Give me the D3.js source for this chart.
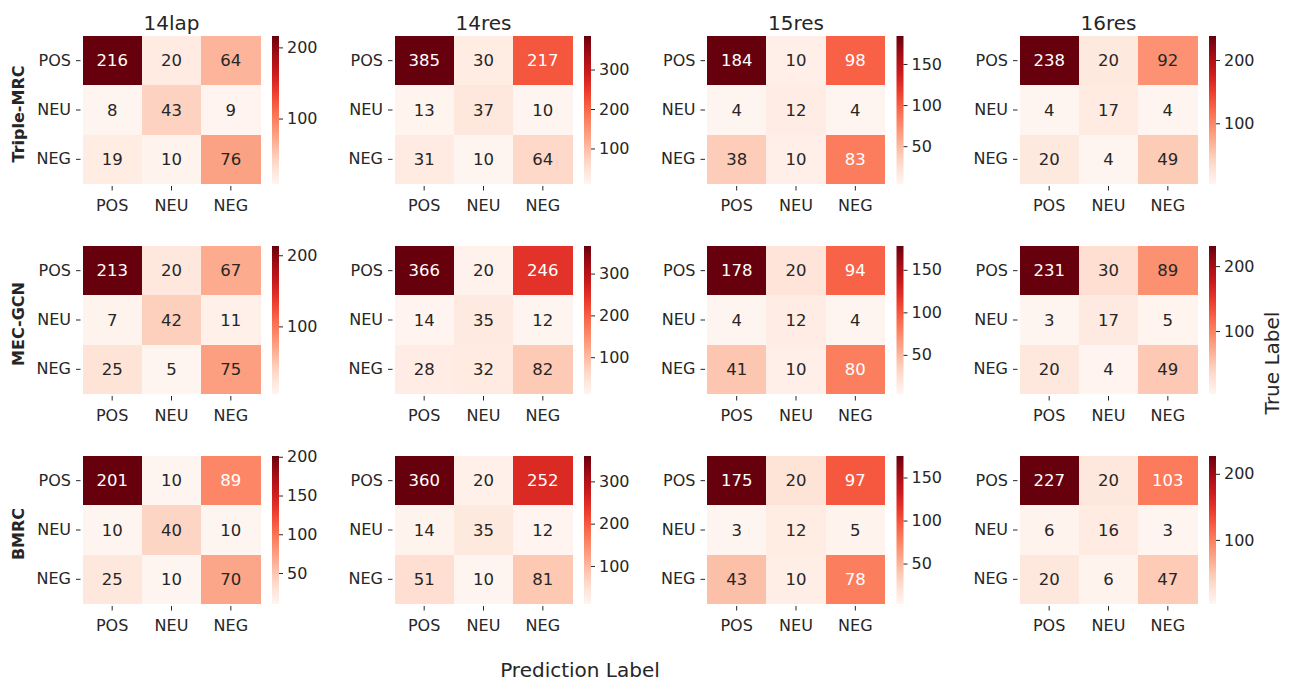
<!DOCTYPE html>
<html>
<head>
<meta charset="utf-8">
<script src="https://cdn.jsdelivr.net/npm/d3@7"></script>
<style>
  html, body { margin: 0; padding: 0; background: #fff; }
  svg { display: block; font-family: "DejaVu Sans", sans-serif; }
</style>
</head>
<body>
<svg id="chart" width="1290" height="682"></svg>
<script>
// Class labels used on both axes of every confusion matrix
const classes = ["POS", "NEU", "NEG"];
// Datasets (columns) and models (rows)
const datasets = ["14lap", "14res", "15res", "16res"];
const models = ["Triple-MRC", "MEC-GCN", "BMRC"];

// Confusion matrices: rows = true label, columns = predicted label
const tripleMRC = [
  [[216, 20, 64], [8, 43, 9], [19, 10, 76]],
  [[385, 30, 217], [13, 37, 10], [31, 10, 64]],
  [[184, 10, 98], [4, 12, 4], [38, 10, 83]],
  [[238, 20, 92], [4, 17, 4], [20, 4, 49]]
];
const mecGCN = [
  [[213, 20, 67], [7, 42, 11], [25, 5, 75]],
  [[366, 20, 246], [14, 35, 12], [28, 32, 82]],
  [[178, 20, 94], [4, 12, 4], [41, 10, 80]],
  [[231, 30, 89], [3, 17, 5], [20, 4, 49]]
];
const bmrc = [
  [[201, 10, 89], [10, 40, 10], [25, 10, 70]],
  [[360, 20, 252], [14, 35, 12], [51, 10, 81]],
  [[175, 20, 97], [3, 12, 5], [43, 10, 78]],
  [[227, 20, 103], [6, 16, 3], [20, 6, 47]]
];
const matrices = [tripleMRC, mecGCN, bmrc];

// Colorbar tick values for each panel
const cbarTicksTriple = [[100, 200], [100, 200, 300], [50, 100, 150], [100, 200]];
const cbarTicksMEC = [[100, 200], [100, 200, 300], [50, 100, 150], [100, 200]];
const cbarTicksBMRC = [[50, 100, 150, 200], [100, 200, 300], [50, 100, 150], [100, 200]];
const cbarTicks = [cbarTicksTriple, cbarTicksMEC, cbarTicksBMRC];

// ---- layout ----
const colX = [82.5, 394.5, 707, 1019.5];
const rowY = [36, 246, 456];
const hmW = 178, hmH = 148;
const cbGap = 11.5, cbW = 7;
const ink = "#262626";

const svg = d3.select("#chart");
const defs = svg.append("defs");

// relative luminance, used to pick annotation colour on each cell
function luminance(c) {
  const rgb = d3.rgb(c);
  const lin = [rgb.r, rgb.g, rgb.b].map(v => {
    v /= 255;
    return v <= 0.03928 ? v / 12.92 : Math.pow((v + 0.055) / 1.055, 2.4);
  });
  return 0.2126 * lin[0] + 0.7152 * lin[1] + 0.0722 * lin[2];
}

matrices.forEach((modelMats, r) => {
  modelMats.forEach((mat, c) => {
    const flat = mat.flat();
    const vmin = d3.min(flat), vmax = d3.max(flat);
    const color = d3.scaleSequential(d3.interpolateReds).domain([vmin, vmax]);

    const g = svg.append("g").attr("transform", `translate(${colX[c]},${rowY[r]})`);
    const x = d3.scaleBand().domain(classes).range([0, hmW]);
    const y = d3.scaleBand().domain(classes).range([0, hmH]);

    // cells
    const cells = [];
    mat.forEach((row, i) => row.forEach((v, j) => cells.push({ t: classes[i], p: classes[j], v })));
    g.selectAll("rect.cell").data(cells).join("rect")
      .attr("class", "cell")
      .attr("x", d => x(d.p)).attr("y", d => y(d.t))
      .attr("width", x.bandwidth()).attr("height", y.bandwidth())
      .attr("fill", d => color(d.v))
      .attr("shape-rendering", "crispEdges");

    g.selectAll("text.annot").data(cells).join("text")
      .attr("class", "annot")
      .attr("x", d => x(d.p) + x.bandwidth() / 2)
      .attr("y", d => y(d.t) + y.bandwidth() / 2)
      .attr("text-anchor", "middle")
      .attr("dominant-baseline", "central")
      .attr("font-size", 16.5)
      .attr("fill", d => luminance(color(d.v)) > 0.408 ? ink : "#ffffff")
      .text(d => d.v);

    // axes
    const xAxis = g.append("g").attr("transform", `translate(0,${hmH + 2})`)
      .call(d3.axisBottom(x).tickSize(4.5).tickPadding(6));
    const yAxis = g.append("g").attr("transform", "translate(-2,0)")
      .call(d3.axisLeft(y).tickSize(4.5).tickPadding(5));
    [xAxis, yAxis].forEach(a => {
      a.select(".domain").remove();
      a.selectAll("line").attr("stroke", ink).attr("stroke-width", 1);
      a.selectAll("text").attr("font-size", 16).attr("fill", ink)
        .attr("font-family", "DejaVu Sans, sans-serif");
    });
    xAxis.selectAll("text").attr("dy", "0.9em");

    // colorbar
    const gradId = `grad-${r}-${c}`;
    const grad = defs.append("linearGradient").attr("id", gradId)
      .attr("x1", 0).attr("y1", 1).attr("x2", 0).attr("y2", 0);
    d3.range(0, 1.0001, 0.05).forEach(t => {
      grad.append("stop").attr("offset", t)
        .attr("stop-color", color(vmin + t * (vmax - vmin)));
    });
    const cb = g.append("g").attr("transform", `translate(${hmW + cbGap},0)`);
    cb.append("rect").attr("width", cbW).attr("height", hmH)
      .attr("fill", `url(#${gradId})`);
    const cy = d3.scaleLinear().domain([vmin, vmax]).range([hmH, 0]);
    const cbAxis = cb.append("g").attr("transform", `translate(${cbW},0)`)
      .call(d3.axisRight(cy).tickValues(cbarTicks[r][c]).tickSize(4).tickPadding(4));
    cbAxis.select(".domain").remove();
    cbAxis.selectAll("line").attr("stroke", ink);
    cbAxis.selectAll("text").attr("font-size", 16).attr("fill", ink)
      .attr("font-family", "DejaVu Sans, sans-serif");

    // dataset title on the first row
    if (r === 0) {
      g.append("text").attr("x", hmW / 2).attr("y", -6)
        .attr("text-anchor", "middle").attr("font-size", 20).attr("fill", ink)
        .text(datasets[c]);
    }
    // model name on the first column
    if (c === 0) {
      g.append("text")
        .attr("transform", `translate(${18 - colX[0]},${hmH / 2 + 4}) rotate(-90)`)
        .attr("text-anchor", "middle").attr("dominant-baseline", "central")
        .attr("font-size", 16).attr("font-weight", "bold").attr("fill", ink)
        .text(models[r]);
    }
  });
});

// shared axis titles
svg.append("text").attr("x", 580).attr("y", 677)
  .attr("text-anchor", "middle").attr("font-size", 20).attr("fill", ink)
  .text("Prediction Label");
svg.append("text").attr("transform", "translate(1272,363) rotate(-90)")
  .attr("text-anchor", "middle").attr("dominant-baseline", "central")
  .attr("font-size", 20).attr("fill", ink)
  .text("True Label");
</script>
</body>
</html>
